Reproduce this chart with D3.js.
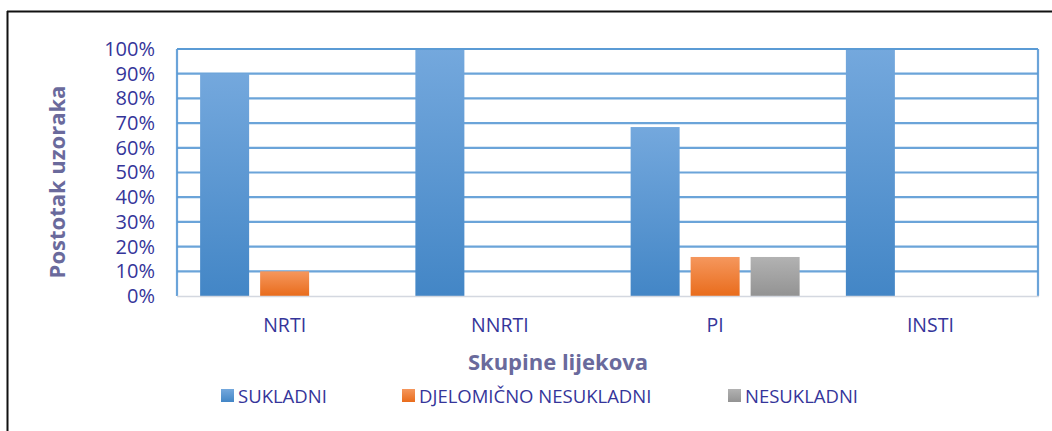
<!DOCTYPE html>
<html>
<head>
<meta charset="utf-8">
<script src="https://cdn.jsdelivr.net/npm/d3@7"></script>
<style>
  body { margin: 0; background: #fff; }
  svg { display: block; font-family: 'Open Sans', sans-serif; }
</style>
</head>
<body>
<svg id="chart"></svg>
<script>
'use strict';

const WIDTH = 1052;
const HEIGHT = 431;

const categories = ['NRTI', 'NNRTI', 'PI', 'INSTI'];
const series = ['SUKLADNI', 'DJELOMIČNO NESUKLADNI', 'NESUKLADNI'];
const sukladni = [0.90, 1.00, 0.684, 1.00];
const djelomicno = [0.10, 0, 0.158, 0];
const nesukladni = [0, 0, 0.158, 0];
const yTicks = [0, 0.1, 0.2, 0.3, 0.4, 0.5, 0.6, 0.7, 0.8, 0.9, 1.0];

// gradient stops per series (top, bottom)
const COLOR = {
    'SUKLADNI': ['#74a8dd', '#4386c6'],
    'DJELOMIČNO NESUKLADNI': ['#f5975d', '#e96c1c'],
    'NESUKLADNI': ['#b2b2b2', '#939393']
};
const TEXT = '#35359a';
const TITLE = '#6a6a9c';
const GRID = '#5b9bd5';

const plot = {left: 177, right: 1038, top: 49, bottom: 296};

const values = [sukladni, djelomicno, nesukladni];
const rows = [];
categories.forEach(function(c, i) {
    series.forEach(function(s, j) {
        rows.push({cat: c, ser: s, v: values[j][i]});
    });
});

const svg = d3.select('#chart').attr('width', WIDTH).attr('height', HEIGHT);

const defs = svg.append('defs');
series.forEach(function(s, j) {
    let g = defs.append('linearGradient')
        .attr('id', 'grad' + j)
        .attr('x1', 0).attr('y1', 0).attr('x2', 0).attr('y2', 1);
    g.append('stop').attr('offset', '0%').attr('stop-color', COLOR[s][0]);
    g.append('stop').attr('offset', '100%').attr('stop-color', COLOR[s][1]);
});

// frame (only top and left edges visible)
svg.append('line').attr('x1', 7).attr('x2', WIDTH).attr('y1', 11.5).attr('y2', 11.5)
    .attr('stroke', '#111').attr('stroke-width', 2);
svg.append('line').attr('x1', 7.5).attr('x2', 7.5).attr('y1', 11).attr('y2', HEIGHT)
    .attr('stroke', '#111').attr('stroke-width', 2);

const groupPad = 1 - 169 / 215.25;
const x0 = d3.scaleBand().domain(categories).range([plot.left, plot.right])
    .paddingInner(groupPad).paddingOuter(groupPad / 2);
const x1 = d3.scaleBand().domain(series).range([0, x0.bandwidth()])
    .paddingInner(11 / 60).paddingOuter(0);
const y = d3.scaleLinear().domain([0, 1]).range([plot.bottom, plot.top]);

// gridlines
svg.append('g').selectAll('line')
    .data(yTicks.filter(function(t) { return t > 0; }))
    .enter().append('line')
    .attr('x1', plot.left).attr('x2', plot.right)
    .attr('y1', function(d) { return y(d); })
    .attr('y2', function(d) { return y(d); })
    .attr('stroke', GRID).attr('stroke-width', 2.2).attr('opacity', 0.9);

// left / right plot borders
[plot.left, plot.right].forEach(function(xx) {
    svg.append('line').attr('x1', xx).attr('x2', xx)
        .attr('y1', plot.top).attr('y2', plot.bottom)
        .attr('stroke', GRID).attr('stroke-width', 2.2).attr('opacity', 0.9);
});

// bars
svg.append('g').selectAll('rect')
    .data(rows.filter(function(d) { return d.v > 0; }))
    .enter().append('rect')
    .attr('x', function(d) { return x0(d.cat) + x1(d.ser); })
    .attr('y', function(d) { return y(d.v); })
    .attr('width', x1.bandwidth())
    .attr('height', function(d) { return y(0) - y(d.v); })
    .attr('fill', function(d) { return 'url(#grad' + series.indexOf(d.ser) + ')'; });

// top border drawn over bars
svg.append('line').attr('x1', plot.left).attr('x2', plot.right)
    .attr('y1', plot.top).attr('y2', plot.top)
    .attr('stroke', GRID).attr('stroke-width', 2.2);

// x axis line
svg.append('line').attr('x1', plot.left).attr('x2', plot.right + 1)
    .attr('y1', plot.bottom + 0.5).attr('y2', plot.bottom + 0.5)
    .attr('stroke', '#d4d8e0').attr('stroke-width', 1.5);

// y tick labels
const yAxis = d3.axisLeft(y).tickValues(yTicks).tickFormat(d3.format('.0%')).tickSize(0).tickPadding(22);
const ya = svg.append('g').attr('transform', 'translate(' + plot.left + ',0)').call(yAxis);
ya.select('.domain').remove();
ya.selectAll('text').attr('fill', TEXT).style('font-size', '20px')
    .style('font-family', "'Open Sans', sans-serif");

// x tick labels
const xAxis = d3.axisBottom(x0).tickSize(0).tickPadding(22);
const xa = svg.append('g').attr('transform', 'translate(0,' + plot.bottom + ')').call(xAxis);
xa.select('.domain').remove();
xa.selectAll('text').attr('fill', TEXT).style('font-size', '19.5px')
    .style('font-family', "'Open Sans', sans-serif");

// axis titles
svg.append('text').text('Skupine lijekova')
    .attr('x', 558).attr('y', 370).attr('text-anchor', 'middle')
    .attr('fill', TITLE).style('font-size', '22px').style('font-weight', 'bold');
svg.append('text').text('Postotak uzoraka')
    .attr('transform', 'translate(65,182) rotate(-90)').attr('text-anchor', 'middle')
    .attr('fill', TITLE).style('font-size', '22px').style('font-weight', 'bold');

// legend
const legendX = [221, 402, 728];
const legend = svg.append('g').attr('transform', 'translate(0,389)');
series.forEach(function(s, j) {
    let item = legend.append('g').attr('transform', 'translate(' + legendX[j] + ',0)');
    item.append('rect').attr('width', 13).attr('height', 13)
        .attr('fill', 'url(#grad' + j + ')');
    item.append('text').text(s).attr('x', 17).attr('y', 13.5)
        .attr('fill', TEXT).style('font-size', '18.5px');
});
</script>
</body>
</html>
